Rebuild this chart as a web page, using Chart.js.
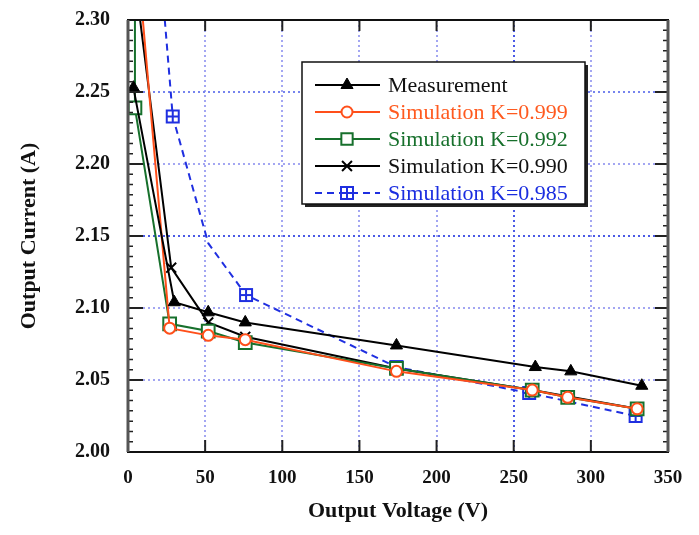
<!DOCTYPE html>
<html>
<head>
<meta charset="utf-8">
<script src="https://cdn.jsdelivr.net/npm/chart.js@4.4.0/dist/chart.umd.min.js"></script>
<style>
  html, body { margin: 0; padding: 0; background: #fff; }
  #wrap { width: 699px; height: 535px; }
</style>
</head>
<body>
<div id="wrap"><canvas id="ivChart" width="699" height="535"></canvas></div>
<script>
// axis ticks
const xTicks = [0, 50, 100, 150, 200, 250, 300, 350];
const yTicks = [2.00, 2.05, 2.10, 2.15, 2.20, 2.25, 2.30];

// Measurement (V, A)
const measV = [3.5, 30, 52, 76, 174, 264, 287, 333];
const measI = [2.253, 2.104, 2.097, 2.090, 2.074, 2.059, 2.056, 2.046];
// Simulation K=0.999
const k999V = [1.5, 27, 52, 76, 174, 262, 285, 330];
const k999I = [2.400, 2.086, 2.081, 2.078, 2.056, 2.043, 2.038, 2.030];
// Simulation K=0.992
const k992V = [4.5, 4.5, 27, 52, 76, 174, 262, 285, 330];
const k992I = [2.400, 2.239, 2.089, 2.084, 2.076, 2.058, 2.043, 2.038, 2.030];
// Simulation K=0.990
const k990V = [2, 28, 52, 76, 174, 262, 330];
const k990I = [2.350, 2.128, 2.090, 2.080, 2.058, 2.043, 2.030];
// Simulation K=0.985 (the 52 V point carries no marker)
const k985V = [20, 29, 52, 76.5, 174, 260, 329];
const k985I = [2.350, 2.233, 2.145, 2.109, 2.059, 2.041, 2.025];
const k985Marked = [true, true, false, true, true, true, true];

const toXY = (xs, ys) => xs.map((x, i) => ({ x: x, y: ys[i] }));

const ORANGE = '#ff4f1a';
const GREEN = '#17702c';
const BLUE = '#1f2fe0';
const SERIF = '"Liberation Serif", "Times New Roman", serif';

// square-with-cross marker for the K=0.985 series
function boxPlus(color) {
    const c = document.createElement('canvas');
    c.width = 16; c.height = 16;
    const g = c.getContext('2d');
    g.fillStyle = '#fff';
    g.fillRect(2, 2, 12, 12);
    g.strokeStyle = color;
    g.lineWidth = 2;
    g.strokeRect(2, 2, 12, 12);
    g.beginPath();
    g.moveTo(8, 2); g.lineTo(8, 14);
    g.moveTo(2, 8); g.lineTo(14, 8);
    g.stroke();
    return c;
}
const boxPlusImg = boxPlus(BLUE);

const near = (a, b) => Math.abs(a - b) < 1e-6;

// frame, inward ticks and boxed legend
const decorPlugin = {
    id: 'decor',
    afterDraw(chart) {
        const ctx = chart.ctx;
        const a = chart.chartArea;
        const xs = chart.scales.x, ys = chart.scales.y;
        ctx.save();

        // ticks
        ctx.strokeStyle = '#222';
        ctx.lineWidth = 2;
        ctx.beginPath();
        yTicks.forEach(v => {
            const py = ys.getPixelForValue(v);
            ctx.moveTo(a.left, py); ctx.lineTo(a.left + 15, py);
            ctx.moveTo(a.right, py); ctx.lineTo(a.right - 13, py);
        });
        xTicks.forEach(v => {
            const px = xs.getPixelForValue(v);
            ctx.moveTo(px, a.bottom); ctx.lineTo(px, a.bottom - 12);
            ctx.moveTo(px, a.top); ctx.lineTo(px, a.top + 11);
        });
        ctx.stroke();
        ctx.lineWidth = 1.5;
        ctx.beginPath();
        for (let i = 0; i < yTicks.length - 1; i++) {
            for (let k = 1; k < 7; k++) {
                const v = yTicks[i] + (yTicks[i + 1] - yTicks[i]) * k / 7;
                const py = ys.getPixelForValue(v);
                ctx.moveTo(a.left, py); ctx.lineTo(a.left + 5, py);
                ctx.moveTo(a.right, py); ctx.lineTo(a.right - 5, py);
            }
        }
        ctx.stroke();

        // frame
        ctx.strokeStyle = '#111';
        ctx.lineWidth = 2;
        ctx.strokeRect(a.left, a.top, a.right - a.left, a.bottom - a.top);
        ctx.strokeStyle = '#555';
        ctx.lineWidth = 3;
        ctx.beginPath();
        ctx.moveTo(a.left, a.top); ctx.lineTo(a.left, a.bottom);
        ctx.moveTo(a.right, a.top); ctx.lineTo(a.right, a.bottom);
        ctx.stroke();

        // legend box
        const bx = 302, by = 62, bw = 283, bh = 142;
        ctx.fillStyle = '#fff';
        ctx.fillRect(bx, by, bw, bh);
        ctx.fillStyle = '#222';
        ctx.fillRect(bx + bw, by + 3, 3, bh);
        ctx.fillRect(bx + 3, by + bh, bw, 3);
        ctx.strokeStyle = '#111';
        ctx.lineWidth = 1.5;
        ctx.strokeRect(bx, by, bw, bh);

        const textColors = ['#111', '#ff5a1f', GREEN, '#111', '#1a2de0'];
        chart.data.datasets.forEach((ds, i) => {
            const ry = by + 23 + i * 27;
            ctx.setLineDash(ds.borderDash || []);
            ctx.strokeStyle = ds.borderColor;
            ctx.lineWidth = ds.borderWidth;
            ctx.beginPath();
            ctx.moveTo(315, ry); ctx.lineTo(380, ry);
            ctx.stroke();
            ctx.setLineDash([]);
            ctx.fillStyle = ds.pointBackgroundColor;
            ctx.strokeStyle = ds.borderColor;
            ctx.lineWidth = ds.pointBorderWidth;
            Chart.helpers.drawPoint(ctx, {
                pointStyle: ds.pointStyle,
                radius: ds.legendRadius,
                rotation: 0,
                borderWidth: ds.pointBorderWidth
            }, 347, ry);
            ctx.fillStyle = textColors[i];
            ctx.font = '22px ' + SERIF;
            ctx.textBaseline = 'middle';
            ctx.textAlign = 'left';
            ctx.fillText(ds.label, 388, ry + 1);
        });
        ctx.restore();
    }
};

const ctx = document.getElementById('ivChart');

new Chart(ctx, {
    type: 'scatter',
    data: {
        datasets: [
            {
                label: 'Measurement',
                data: toXY(measV, measI),
                showLine: true,
                borderColor: '#000',
                borderWidth: 2,
                pointStyle: 'triangle',
                pointRadius: 7,
                legendRadius: 7,
                pointBackgroundColor: '#000',
                pointBorderWidth: 1
            },
            {
                label: 'Simulation K=0.999',
                data: toXY(k999V, k999I),
                showLine: true,
                borderColor: ORANGE,
                borderWidth: 2,
                pointStyle: 'circle',
                pointRadius: 5.5,
                legendRadius: 5.5,
                pointBackgroundColor: '#fff',
                pointBorderColor: ORANGE,
                pointBorderWidth: 2
            },
            {
                label: 'Simulation K=0.992',
                data: toXY(k992V, k992I),
                showLine: true,
                borderColor: GREEN,
                borderWidth: 2,
                pointStyle: 'rect',
                pointRadius: 9,
                legendRadius: 8,
                pointBackgroundColor: '#fff',
                pointBorderColor: GREEN,
                pointBorderWidth: 2
            },
            {
                label: 'Simulation K=0.990',
                data: toXY(k990V, k990I),
                showLine: true,
                borderColor: '#000',
                borderWidth: 2,
                pointStyle: 'crossRot',
                pointRadius: 7,
                legendRadius: 7,
                pointBackgroundColor: '#000',
                pointBorderColor: '#000',
                pointBorderWidth: 2
            },
            {
                label: 'Simulation K=0.985',
                data: toXY(k985V, k985I),
                showLine: true,
                borderColor: BLUE,
                borderWidth: 2,
                borderDash: [7, 5],
                pointStyle: boxPlusImg,
                pointRadius: k985Marked.map(m => m ? 7 : 0),
                legendRadius: 7,
                pointBackgroundColor: '#fff',
                pointBorderColor: BLUE,
                pointBorderWidth: 2
            }
        ]
    },
    options: {
        responsive: false,
        animation: false,
        layout: {
            padding: { top: 20, right: 31, left: 0, bottom: 0 }
        },
        plugins: {
            legend: { display: false },
            tooltip: { enabled: false }
        },
        scales: {
            x: {
                type: 'linear',
                min: 0,
                max: 350,
                afterFit: s => { s.height = 83; s.paddingLeft = 0; s.paddingRight = 0; },
                afterBuildTicks: s => { s.ticks = xTicks.map(v => ({ value: v })); },
                border: { display: false, dash: [2, 3] },
                grid: {
                    drawTicks: false,
                    lineWidth: 2,
                    color: c => near(c.tick.value, 250) ? '#4a5ae6' : '#a3a6f2'
                },
                ticks: {
                    padding: 15,
                    color: '#111',
                    font: { family: SERIF, size: 19, weight: 'bold' }
                },
                title: {
                    display: true,
                    text: 'Output Voltage (V)',
                    color: '#111',
                    padding: 10,
                    font: { family: SERIF, size: 22, weight: 'bold' }
                }
            },
            y: {
                type: 'linear',
                min: 2.00,
                max: 2.30,
                afterFit: s => { s.width = 128; s.paddingTop = 0; s.paddingBottom = 0; },
                afterBuildTicks: s => { s.ticks = yTicks.map(v => ({ value: v })); },
                border: { display: false, dash: [2, 3] },
                grid: {
                    drawTicks: false,
                    lineWidth: 2,
                    color: c => near(c.tick.value, 2.15) ? '#4a5ae6' : (near(c.tick.value, 2.25) ? '#7684ee' : '#a3a6f2')
                },
                ticks: {
                    padding: 18,
                    color: '#111',
                    callback: v => Number(v).toFixed(2),
                    font: { family: SERIF, size: 20, weight: 'bold' }
                },
                title: {
                    display: true,
                    text: 'Output Current (A)',
                    color: '#111',
                    padding: 16,
                    font: { family: SERIF, size: 22, weight: 'bold' }
                }
            }
        }
    },
    plugins: [decorPlugin]
});
</script>
</body>
</html>
